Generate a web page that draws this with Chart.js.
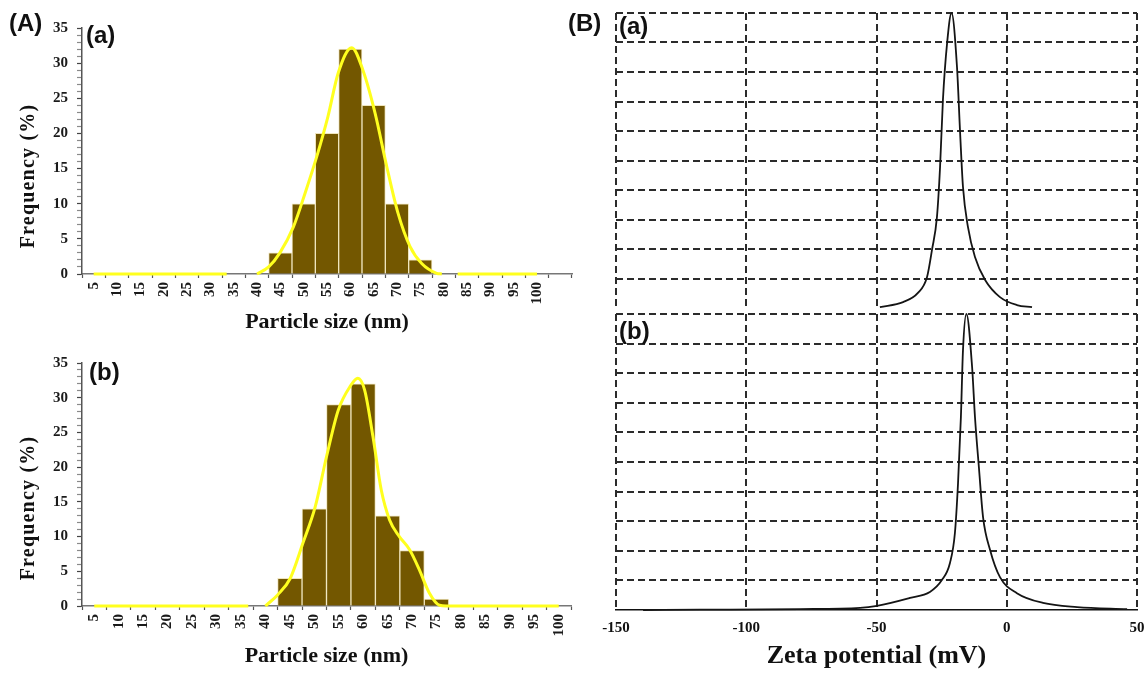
<!DOCTYPE html>
<html>
<head>
<meta charset="utf-8">
<script src="https://cdn.jsdelivr.net/npm/chart.js@4.4.1/dist/chart.umd.min.js"></script>
<style>
  html, body { margin: 0; padding: 0; background: #fff; }
  #page { position: relative; width: 1148px; height: 674px; overflow: hidden; background: #fff; }
  .box { position: absolute; }
  .box canvas { display: block; }
  .tag { position: absolute; font: bold 24px "Liberation Sans", Arial, sans-serif; line-height: 24px; color: #111; white-space: nowrap; }
</style>
</head>
<body>
<div id="page">
  <div class="box" style="left:0;top:0;"><canvas id="sizeA" width="590" height="340"></canvas></div>
  <div class="box" style="left:0;top:340px;"><canvas id="sizeB" width="590" height="334"></canvas></div>
  <div class="box" style="left:580px;top:0;"><canvas id="zetaA" width="568" height="311"></canvas></div>
  <div class="box" style="left:580px;top:311px;"><canvas id="zetaB" width="568" height="363"></canvas></div>
  <div class="tag" style="left:9px;top:11px;">(A)</div>
  <div class="tag" style="left:86px;top:23px;">(a)</div>
  <div class="tag" style="left:89px;top:360px;">(b)</div>
  <div class="tag" style="left:568px;top:11px;">(B)</div>
  <div class="tag" style="left:619px;top:14px;">(a)</div>
  <div class="tag" style="left:619px;top:319px;">(b)</div>
</div>
<script>
// ---- particle size distributions (histogram bins, nm / %) ----
const binCentres = [45, 50, 55, 60, 65, 70, 75];
const freqA = [3, 10, 20, 32, 24, 10, 2];
const freqB = [4, 14, 29, 32, 13, 8, 1];

// tick values of the size and frequency axes
const sizeTicksA = [5, 10, 15, 20, 25, 30, 35, 40, 45, 50, 55, 60, 65, 70, 75, 80, 85, 90, 95, 100, 105];
const sizeTicksB = [5, 10, 15, 20, 25, 30, 35, 40, 45, 50, 55, 60, 65, 70, 75, 80, 85, 90, 95, 100];
const freqTicks = [0, 5, 10, 15, 20, 25, 30, 35];

// fitted distribution curves (null = break in the line)
const fitA_x = [5, 33.5, 36, 40, 42.5, 44.9, 47.8, 50.3, 52.8, 55.2, 57.4, 60.3, 62.7, 65.3, 67.8, 70.2, 72.8, 75.3, 78.5, 79.6, 81, 83, 100];
const fitA_y = [0, 0, null, 0, 1.0, 3.0, 6.7, 11.5, 16.7, 22.4, 28.6, 32.2, 29.0, 22.9, 15.3, 8.7, 3.9, 1.5, 0.1, 0, null, 0, 0];
const fitB_x = [5, 36.5, 38, 40, 42.5, 45.1, 47.7, 50.2, 52.5, 54.9, 57.3, 58.9, 60.3, 62.0, 63.7, 65.4, 67.4, 69.5, 71.5, 73.5, 75.6, 77, 100];
const fitB_y = [0, 0, null, 0, 1.6, 4.0, 9.1, 14.3, 21.5, 28.2, 31.6, 32.8, 31.1, 24.4, 16.7, 12.4, 10.0, 8.1, 5.2, 1.9, 0.1, 0, 0];

// ---- zeta potential distributions (mV / relative intensity) ----
const zetaA_mV = [-48.7, -39.8, -34.1, -30.6, -28.7, -26.8, -25.6, -24.5, -22.9, -21.2, -19.1, -17.9, -16.8, -14.9, -12.2, -8.3, -2.6, 3.9, 9.7];
const zetaA_int = [0.3, 2.0, 5.1, 10.5, 19.7, 30.8, 47.8, 70.5, 89.8, 100, 81.7, 59.3, 41.0, 27.5, 17.3, 9.5, 3.7, 1.0, 0.3];
const zetaB_mV = [-139.6, -117.8, -79.4, -56.3, -49.8, -37.1, -29.5, -24.9, -21.8, -19.9, -18.7, -17.6, -16.8, -15.5, -13.3, -12.2, -10.7, -9.1, -6.4, -2.6, 3.9, 13.9, 27.0, 46.2];
const zetaB_int = [0.0, 0.1, 0.3, 0.7, 1.4, 4.1, 6.1, 10.1, 15.9, 26.0, 42.9, 65.2, 87.8, 100, 82.1, 65.2, 48.3, 31.4, 20.3, 11.1, 5.7, 2.4, 1.0, 0.3];
const zetaTicks = [-150, -100, -50, 0, 50];

// ---- shared styling ----
const SERIF = '"Liberation Serif", "Times New Roman", serif';
const tickFont = { family: SERIF, size: 15, weight: 'bold' };

Chart.defaults.animation = false;
Chart.defaults.plugins.legend.display = false;
Chart.defaults.plugins.tooltip.enabled = false;

// rotated y-axis caption placed relative to the plot area
const sideTitle = {
  id: 'sideTitle',
  afterDraw(chart, args, opts) {
    if (!opts || !opts.text) return;
    const { ctx, chartArea } = chart;
    ctx.save();
    ctx.font = opts.font;
    ctx.fillStyle = opts.color;
    if ('letterSpacing' in ctx) ctx.letterSpacing = opts.spacing || '0px';
    ctx.translate(chartArea.left - opts.dx, chartArea.bottom - opts.dy);
    ctx.rotate(-Math.PI / 2);
    ctx.textAlign = 'center';
    ctx.textBaseline = 'middle';
    ctx.fillText(opts.text, 0, 0);
    ctx.restore();
  }
};

const toPoints = (xs, ys) => xs.map((x, i) => ({ x, y: ys[i] }));

// keep the plot area where the layout padding puts it
const noEdgePadding = s => { s.paddingLeft = 0; s.paddingRight = 0; s.paddingTop = 0; s.paddingBottom = 0; };

function buildSize(id, freq, fitX, fitY, ticksX, xMax, pad, axisBand) {
  return new Chart(document.getElementById(id), {
    type: 'bar',
    data: {
      datasets: [
        {
          type: 'line',
          data: toPoints(fitX, fitY),
          borderColor: '#ffff1e',
          borderWidth: 3,
          pointRadius: 0,
          cubicInterpolationMode: 'monotone',
          spanGaps: false,
          clip: false,
          order: 0
        },
        {
          type: 'bar',
          data: toPoints(binCentres, freq),
          backgroundColor: '#735700',
          borderColor: '#efe5bd',
          borderWidth: 1,
          categoryPercentage: 1,
          barPercentage: 1,
          order: 1
        }
      ]
    },
    options: {
      responsive: false,
      layout: { padding: pad },
      scales: {
        x: {
          type: 'linear',
          min: 2.5,
          max: xMax,
          offset: false,
          afterBuildTicks: s => { s.ticks = ticksX.map(v => ({ value: v })); },
          afterFit: s => { s.height = axisBand; noEdgePadding(s); },
          ticks: {
            autoSkip: false, minRotation: 90, maxRotation: 90, padding: 4,
            font: tickFont, color: '#1a1a1a',
            callback: v => (v <= 100 ? String(v) : '')
          },
          grid: { display: true, drawOnChartArea: false, drawTicks: true, tickLength: 4, tickColor: '#555', tickWidth: 1.2 },
          border: { display: true, color: '#777', width: 1.5 },
          title: {
            display: true, text: 'Particle size (nm)', color: '#111',
            font: { family: SERIF, size: 22, weight: 'bold' },
            padding: { top: 0, bottom: 4 }
          }
        },
        y: {
          type: 'linear',
          min: 0,
          max: 35,
          afterBuildTicks: s => {
            const t = [];
            for (let v = 0; v <= 35; v++) t.push({ value: v });
            s.ticks = t;
          },
          afterFit: s => { s.width = 82; noEdgePadding(s); },
          ticks: {
            autoSkip: false, padding: 9, font: tickFont, color: '#1a1a1a',
            callback: v => (freqTicks.includes(v) ? String(v) : '')
          },
          grid: {
            display: true, drawOnChartArea: false, drawTicks: true, tickLength: 5,
            tickColor: c => (c.tick && freqTicks.includes(c.tick.value) ? '#444' : '#8a8a8a'),
            tickWidth: 1.2
          },
          border: { display: true, color: '#555', width: 1.5 }
        }
      },
      plugins: {
        sideTitle: {
          text: 'Frequency (%)', font: 'bold 20px ' + SERIF, color: '#111', spacing: '1.2px',
          dx: 53, dy: 98
        }
      }
    },
    plugins: [sideTitle]
  });
}

function buildZeta(id, xs, ys, pad, axisBand, showAxis) {
  return new Chart(document.getElementById(id), {
    type: 'line',
    data: {
      datasets: [{
        data: toPoints(xs, ys),
        borderColor: '#151515',
        borderWidth: 1.8,
        pointRadius: 0,
        cubicInterpolationMode: 'monotone',
        clip: false
      }]
    },
    options: {
      responsive: false,
      layout: { padding: pad },
      scales: {
        x: {
          type: 'linear',
          min: -150,
          max: 50,
          afterBuildTicks: s => { s.ticks = zetaTicks.map(v => ({ value: v })); },
          afterFit: s => { s.height = axisBand; noEdgePadding(s); },
          ticks: { display: showAxis, padding: 9, font: tickFont, color: '#111', autoSkip: false, maxRotation: 0 },
          grid: { display: true, drawOnChartArea: true, drawTicks: false, color: '#2b2b2b', lineWidth: 2 },
          border: { display: showAxis, color: '#111', width: 1.6, dash: [7, 4] },
          title: {
            display: showAxis, text: 'Zeta potential (mV)', color: '#111',
            font: { family: SERIF, size: 26, weight: 'bold' },
            padding: { top: 0, bottom: 2 }
          }
        },
        y: {
          type: 'linear',
          min: 0,
          max: 100,
          ticks: { display: false, stepSize: 10 },
          afterFit: s => { s.width = 0; noEdgePadding(s); },
          grid: {
            display: true, drawOnChartArea: true, drawTicks: false, lineWidth: 2,
            color: c => (c.tick && c.tick.value === 0 ? 'rgba(0,0,0,0)' : '#2b2b2b')
          },
          border: { display: false, dash: [7, 4] }
        }
      }
    }
  });
}

// (A) particle size histograms
buildSize('sizeA', freqA, fitA_x, fitA_y, sizeTicksA, 107.5, { left: 0, top: 28, right: 18, bottom: 0 }, 66);
buildSize('sizeB', freqB, fitB_x, fitB_y, sizeTicksB, 102.5, { left: 0, top: 23, right: 19, bottom: 0 }, 68);

// (B) zeta potential distributions
buildZeta('zetaA', zetaA_mV, zetaA_int, { left: 36, top: 13, right: 11, bottom: 3 }, 0, false);
buildZeta('zetaB', zetaB_mV, zetaB_int, { left: 36, top: 3, right: 11, bottom: 0 }, 64, true);
</script>
</body>
</html>
